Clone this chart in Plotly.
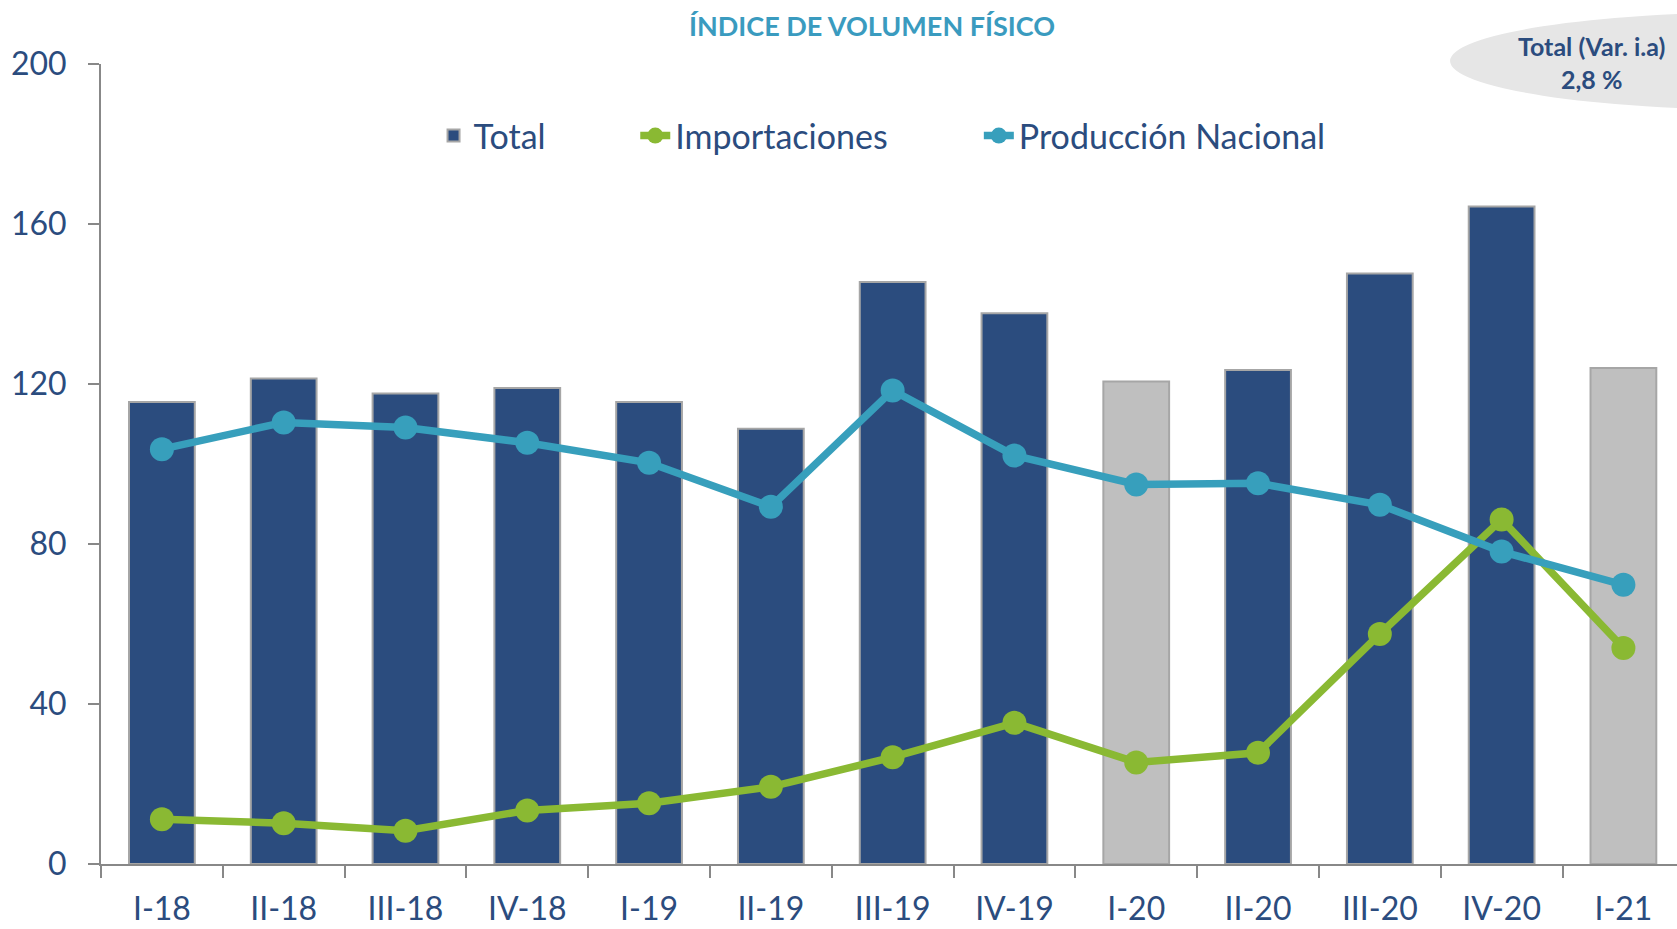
import plotly.graph_objects as go

# ==========================================================
# Data
# ==========================================================

quarters = ["I-18", "II-18", "III-18", "IV-18", "I-19", "II-19", "III-19",
            "IV-19", "I-20", "II-20", "III-20", "IV-20", "I-21"]

total = [115.5, 121.4, 117.6, 119.0, 115.5, 108.8, 145.5,
         137.7, 120.6, 123.5, 147.6, 164.4, 124.0]

importaciones = [11.2, 10.2, 8.3, 13.4, 15.2, 19.3, 26.7,
                 35.3, 25.4, 27.8, 57.5, 86.1, 54.0]

produccion = [103.7, 110.4, 109.1, 105.3, 100.3, 89.3, 118.4,
              102.1, 94.9, 95.2, 89.8, 78.1, 69.8]

# first quarters of 2020 / 2021 are shown in grey
highlight = ["I-20", "I-21"]

y_ticks = [0, 40, 80, 120, 160, 200]

# ==========================================================
# Style
# ==========================================================

BLUE = "#2B4C7E"
GREY = "#BFBFBF"
GREEN = "#8AB933"
TEAL = "#379FBC"
FONT = "Lato"

bar_colors = [GREY if q in highlight else BLUE for q in quarters]

fig = go.Figure()

fig.add_trace(go.Bar(
    x=quarters,
    y=total,
    name="Total",
    width=0.54,
    marker=dict(color=bar_colors, line=dict(color="#A6A6A6", width=2)),
    legend="legend",
))

fig.add_trace(go.Scatter(
    x=quarters,
    y=importaciones,
    name="Importaciones",
    mode="lines+markers",
    line=dict(color=GREEN, width=7.5),
    marker=dict(color=GREEN, size=24),
    legend="legend2",
))

fig.add_trace(go.Scatter(
    x=quarters,
    y=produccion,
    name="Producción Nacional",
    mode="lines+markers",
    line=dict(color=TEAL, width=7.5),
    marker=dict(color=TEAL, size=24),
    legend="legend3",
))

legend_common = dict(
    orientation="h",
    yanchor="middle",
    y=0.91,
    xanchor="left",
    font=dict(family=FONT, size=34, color=BLUE),
    bgcolor="rgba(0,0,0,0)",
)

fig.update_layout(
    width=1677,
    height=929,
    showlegend=True,
    paper_bgcolor="white",
    plot_bgcolor="white",
    margin=dict(l=101, r=0, t=64, b=65),
    font=dict(family=FONT, color=BLUE),
    title=dict(
        text="<b>ÍNDICE DE VOLUMEN FÍSICO</b>",
        x=0.52,
        xanchor="center",
        y=0.971,
        yanchor="middle",
        font=dict(family=FONT, size=27, color="#3A9BBF"),
    ),
    legend=dict(x=0.211, **legend_common),
    legend2=dict(x=0.339, **legend_common),
    legend3=dict(x=0.557, **legend_common),
    xaxis=dict(
        type="category",
        range=[-0.5, 12.44],
        automargin=False,
        showline=True,
        linecolor="#888888",
        linewidth=2,
        ticks="outside",
        tickson="boundaries",
        ticklen=12,
        tickwidth=2,
        tickcolor="#888888",
        tickfont=dict(family=FONT, size=32, color=BLUE),
        ticklabelstandoff=16,
        showgrid=False,
        zeroline=False,
    ),
    yaxis=dict(
        range=[0, 200],
        tickvals=y_ticks,
        automargin=False,
        showline=True,
        linecolor="#888888",
        linewidth=2,
        ticks="outside",
        ticklen=11,
        tickwidth=2,
        tickcolor="#888888",
        tickfont=dict(family=FONT, size=32, color=BLUE),
        ticklabelstandoff=15,
        showgrid=False,
        zeroline=False,
    ),
    shapes=[dict(
        type="circle",
        xref="paper", yref="paper",
        x0=0.856, x1=1.258, y0=0.9425, y1=1.065,
        fillcolor="#E6E6E6",
        line=dict(width=0),
        layer="below",
    )],
    annotations=[dict(
        text="<b>Total (Var. i.a)<br>2,8 %</b>",
        xref="paper", yref="paper",
        x=0.946, y=1.002,
        xanchor="center", yanchor="middle",
        showarrow=False,
        align="center",
        font=dict(family=FONT, size=25, color=BLUE),
    )],
)

# drop the browser's default body margin so the figure sits at the page corner
fig.write_html(
    "out.html",
    config={"displayModeBar": False},
    post_script="document.body.style.margin = '0';",
)
